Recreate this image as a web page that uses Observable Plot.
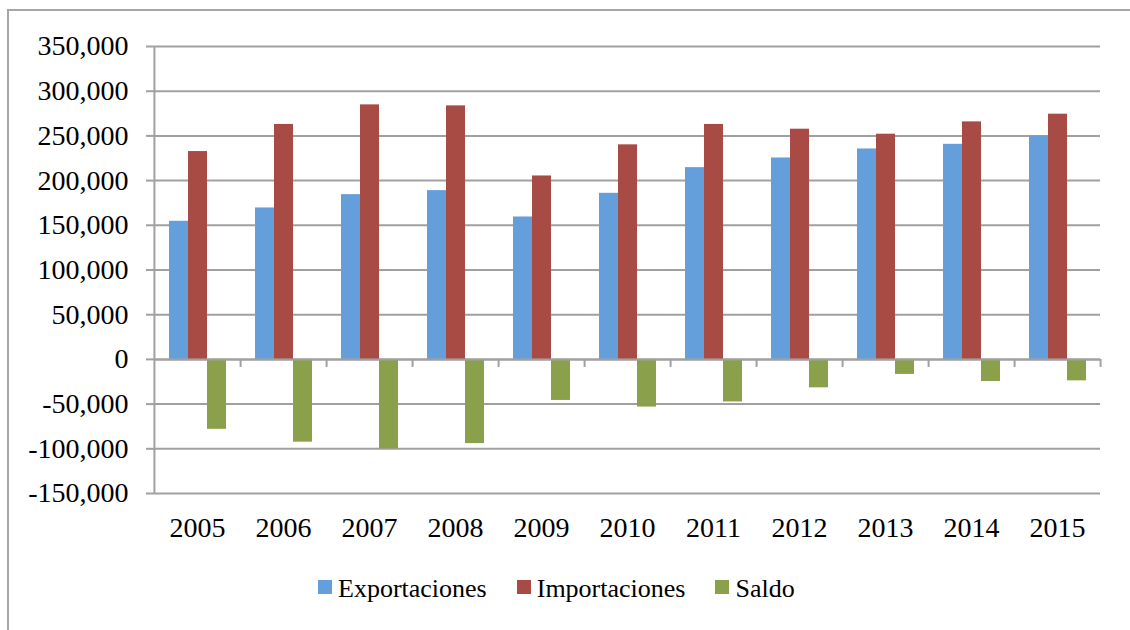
<!DOCTYPE html>
<html>
<head>
<meta charset="utf-8">
<script src="https://cdn.jsdelivr.net/npm/d3@7"></script>
<script src="https://cdn.jsdelivr.net/npm/@observablehq/plot@0.6"></script>
<style>
  html, body { margin: 0; padding: 0; background: white; }
  #wrap { position: relative; width: 1130px; height: 630px; overflow: hidden; background: white; }
  #border { position: absolute; left: 7px; top: 9px; width: 1300px; height: 800px;
            border-top: 2px solid #a6a6a6; border-left: 2px solid #a6a6a6; }
  #chart { position: absolute; left: 0; top: 0; }
  #legend { position: absolute; left: 318px; top: 574px; display: flex; gap: 30px;
            font-family: 'Liberation Serif', serif; font-size: 26px; line-height: 30px; color: black; }
  .item { display: flex; align-items: center; }
  .sw { width: 14px; height: 14px; margin-right: 6px; position: relative; top: -2px; }
</style>
</head>
<body>
<div id="wrap">
  <div id="border"></div>
  <div id="chart"></div>
  <div id="legend"></div>
</div>
<script>
const years = ["2005","2006","2007","2008","2009","2010","2011","2012","2013","2014","2015"];
const series = ["Exportaciones","Importaciones","Saldo"];
const exportaciones = [154500,169400,184300,188800,159300,185800,214500,225300,235400,240600,249700];
const importaciones = [232500,262800,284700,283600,205200,240000,262800,257500,251900,265700,274300];
const saldo = [-78200,-92600,-100000,-94200,-45900,-53300,-47600,-31800,-16800,-24700,-24000];
const yTicks = [-150000,-100000,-50000,0,50000,100000,150000,200000,250000,300000,350000];
const colors = ["#659FDB","#A84B45","#8AA04A"];

const rows = years.flatMap((yr, i) => [
  {year: yr, series: series[0], value: exportaciones[i]},
  {year: yr, series: series[1], value: importaciones[i]},
  {year: yr, series: series[2], value: saldo[i]}
]);

const W = 1130, H = 560, ML = 153, MR = 29, MT = 46, MB = 67;
const facetW = (W - ML - MR) / years.length;
const gridColor = "#a0a0a0";

const chart = Plot.plot({
  width: W, height: H,
  marginLeft: ML, marginRight: MR, marginTop: MT, marginBottom: MB,
  style: {fontFamily: "'Liberation Serif', serif", fontSize: "28px", background: "none", color: "black"},
  fx: {domain: years, padding: 0, label: null},
  x: {domain: series, paddingInner: 0, paddingOuter: 0.73, axis: null},
  y: {domain: [yTicks[0], yTicks[yTicks.length - 1]], label: null},
  color: {domain: series, range: colors},
  marks: [
    Plot.ruleY(yTicks, {stroke: gridColor, strokeWidth: 2}),
    Plot.barY(rows, {fx: "year", x: "series", y: "value", fill: "series"}),
    Plot.ruleY([0], {stroke: gridColor, strokeWidth: 2}),
    Plot.ruleX(years, {fx: d => d, x: null, y1: 0, y2: 0, insetBottom: -8, dx: facetW / 2, stroke: gridColor, strokeWidth: 2}),
    Plot.ruleX([years[0]], {fx: d => d, x: null, y1: yTicks[0], y2: yTicks[yTicks.length - 1], dx: -facetW / 2, stroke: gridColor, strokeWidth: 2}),
    Plot.axisY({ticks: yTicks, tickSize: 8, tickPadding: 18, tickFormat: d => d.toLocaleString("en-US"), stroke: gridColor, strokeWidth: 2, label: null}),
    Plot.axisFx({anchor: "bottom", tickSize: 0, tickPadding: 24, label: null})
  ]
});
document.getElementById("chart").appendChild(chart);

const legend = document.getElementById("legend");
series.forEach((s, i) => {
  const item = document.createElement("div");
  item.className = "item";
  const sw = document.createElement("span");
  sw.className = "sw";
  sw.style.background = colors[i];
  const tx = document.createElement("span");
  tx.textContent = s;
  item.appendChild(sw);
  item.appendChild(tx);
  legend.appendChild(item);
});
</script>
</body>
</html>
